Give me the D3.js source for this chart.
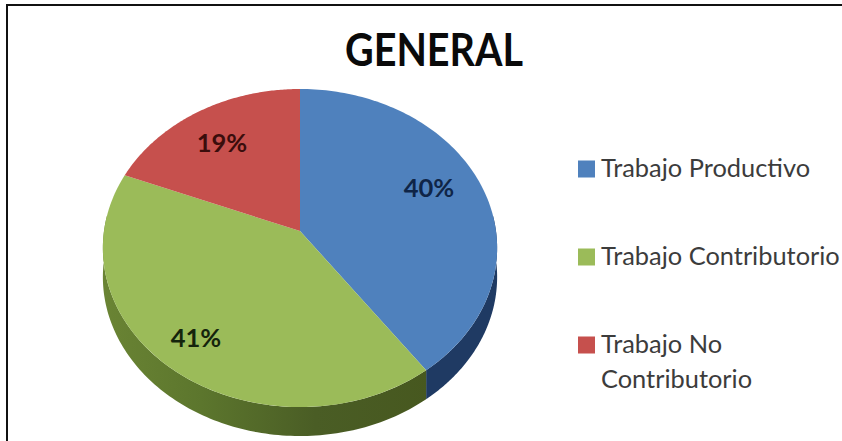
<!DOCTYPE html>
<html>
<head>
<meta charset="utf-8">
<script src="https://cdnjs.cloudflare.com/ajax/libs/d3/7.8.5/d3.min.js"></script>
<style>
html,body{margin:0;padding:0;background:#fff;}
svg{display:block;}
text{font-family:Lato,"Open Sans",sans-serif;}
</style>
</head>
<body>
<svg id="chart" width="842" height="441"></svg>
<script>
const chartTitle = "GENERAL";
const categories = ["Trabajo Productivo", "Trabajo Contributorio", "Trabajo No Contributorio"];
const shares = [40, 41, 19];
const topColors = ["#4f81bd", "#9bbb59", "#c6504d"];
const sideColors = ["#1f3a63", "#4f6228", "#772c2a"];
const labelColors = ["#0f2547", "#14240c", "#3a0d0c"];
const legendLines = [["Trabajo Productivo"], ["Trabajo Contributorio"], ["Trabajo No", "Contributorio"]];

const svg = d3.select("#chart");

// Chart frame, open at the bottom and clipped by the page edge on the right
svg.append("path")
  .attr("d", "M7,441V5H842")
  .attr("fill", "none").attr("stroke", "#111").attr("stroke-width", 2);

svg.append("text").attr("x", 434).attr("y", 66)
  .attr("text-anchor", "middle").attr("font-size", 46).attr("font-weight", 700)
  .attr("fill", "#0a0a0a").attr("textLength", 178).attr("lengthAdjust", "spacingAndGlyphs")
  .text(chartTitle);

// Tilted disc: unit circle to page coordinates with a perspective divide
const hub = {x: 300, y: 231}, spreadX = 196, spreadY = 157.2, tilt = -0.107, depth = 29;
function project(angle, r = 1) {
  const u = r * Math.sin(angle), v = -r * Math.cos(angle), d = 1 + tilt * v;
  return [hub.x + spreadX * u / d, hub.y + spreadY * v / d];
}
const arcs = d3.pie().sort(null)(shares);
const sweep = (a0, a1) => d3.range(0, 121).map(i => a0 + (a1 - a0) * i / 120);
const line = d3.line();

const defs = svg.append("defs");
const shade = defs.append("linearGradient").attr("id", "greenSide")
  .attr("gradientUnits", "userSpaceOnUse")
  .attr("x1", 103).attr("x2", 430).attr("y1", 0).attr("y2", 0);
[[0, "#6a8434"], [0.3, "#5c762d"], [0.65, "#4a5d25"], [1, "#47581f"]]
  .forEach(([o, c]) => shade.append("stop").attr("offset", o).attr("stop-color", c));

// Rim: only the near half of the disc shows its side
arcs.forEach((a, i) => {
  const from = Math.max(a.startAngle, Math.PI / 2 - 0.1);
  const to = Math.min(a.endAngle, 3 * Math.PI / 2 + 0.1);
  if (from >= to) return;
  const upper = sweep(from, to).map(t => project(t));
  const lower = upper.map(([x, y]) => [x, y + depth]).reverse();
  svg.append("path")
    .attr("d", line(upper.concat(lower)) + "Z")
    .attr("fill", i === 1 ? "url(#greenSide)" : sideColors[i]);
});

// Top faces of the slices
arcs.forEach((a, i) => {
  const pts = [project(0, 0)].concat(sweep(a.startAngle, a.endAngle).map(t => project(t)));
  svg.append("path").attr("d", line(pts) + "Z").attr("fill", topColors[i]);
});

// Percentage labels on the slices
const labelSpots = [[429, 188], [196, 338], [222, 143]];
shares.forEach((s, i) => {
  svg.append("text").attr("x", labelSpots[i][0]).attr("y", labelSpots[i][1])
    .attr("dy", "0.35em").attr("text-anchor", "middle")
    .attr("font-size", 25.5).attr("font-weight", 700).attr("fill", labelColors[i]).text(s + "%");
});

// Legend
const legendY = d3.scalePoint().domain(categories).range([169, 345]);
categories.forEach((c, i) => {
  const y = legendY(c);
  svg.append("rect").attr("x", 578).attr("y", y - 8.5).attr("width", 17).attr("height", 17).attr("fill", topColors[i]);
  legendLines[i].forEach((t, j) => {
    svg.append("text").attr("x", 601).attr("y", y + 8 + j * 35)
      .attr("font-size", 25.4).attr("fill", "#3c3c3c").text(t);
  });
});
</script>
</body>
</html>
